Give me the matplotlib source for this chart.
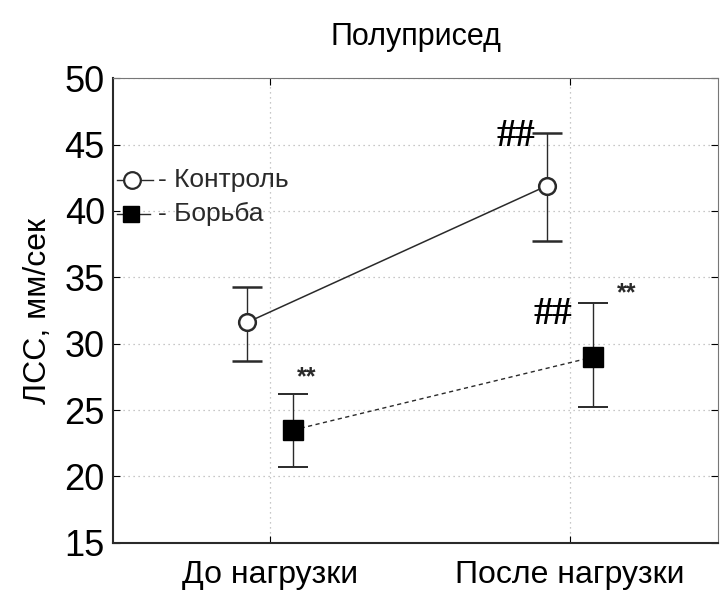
"""
Полуприсед: ЛСС before and after load, control vs wrestlers
"""

import numpy as np
import matplotlib
matplotlib.use('Agg')
import matplotlib.pyplot as plt
from matplotlib import font_manager

# Categories on the x axis
CATEGORIES = ['До нагрузки', 'После нагрузки']
# Control group: means and error bar limits (mm/s)
CONTROL_MEAN = [31.6, 41.9]
CONTROL_LOW = [28.7, 37.7]
CONTROL_HIGH = [34.3, 45.9]
# Wrestling group
WRESTLING_MEAN = [23.5, 29.0]
WRESTLING_LOW = [20.7, 25.2]
WRESTLING_HIGH = [26.2, 33.1]
# Y ticks
Y_TICKS = [15, 20, 25, 30, 35, 40, 45, 50]

names = {f.name for f in font_manager.fontManager.ttflist}
FONT = 'Liberation Sans Narrow' if 'Liberation Sans Narrow' in names else 'Liberation Sans'
plt.rcParams['font.family'] = [FONT, 'DejaVu Sans']

fig = plt.figure(figsize=(7.21, 5.92), dpi=100)
ax = fig.add_axes([0.157, 0.083, 0.839, 0.785])

x = np.arange(len(CATEGORIES))
shift = 0.077
ink = '#2a2a2a'

def errs(mean, low, high):
    mean = np.array(mean)
    return [mean - np.array(low), np.array(high) - mean]

ax.errorbar(x - shift, CONTROL_MEAN, yerr=errs(CONTROL_MEAN, CONTROL_LOW, CONTROL_HIGH),
            fmt='-o', color=ink, mfc='white', mec=ink, mew=1.8, ms=12,
            lw=1.1, elinewidth=1.0, capsize=11, capthick=1.4, zorder=3)
ax.errorbar(x + shift, WRESTLING_MEAN, yerr=errs(WRESTLING_MEAN, WRESTLING_LOW, WRESTLING_HIGH),
            fmt='s', ls=(0, (3, 2.5)), color=ink, mfc='black', mec='black', ms=14,
            lw=1.0, elinewidth=1.0, capsize=11, capthick=1.4, zorder=3)

# Significance marks
ax.text(x[1] - shift - 0.04, CONTROL_HIGH[1] - 0.3, '##', fontsize=28,
        ha='right', va='center', color='black', family='Liberation Serif',
        fontweight='bold')
ax.text(x[1] + shift - 0.07, WRESTLING_HIGH[1] - 0.9, '##', fontsize=28,
        ha='right', va='center', color='black', family='Liberation Serif',
        fontweight='bold')
ax.text(x[0] + shift + 0.045, WRESTLING_HIGH[0] + 1.3, '**', fontsize=18,
        ha='center', va='center', color=ink, fontweight='bold')
ax.text(x[1] + shift + 0.11, WRESTLING_HIGH[1] + 0.7, '**', fontsize=18,
        ha='center', va='center', color=ink, fontweight='bold')

# Legend drawn inside the plot
ax.plot([-0.51, -0.39], [42.3, 42.3], '-', color=ink, lw=1.0, clip_on=False)
ax.plot([-0.46], [42.3], 'o', color=ink, mfc='white', mew=1.6, ms=12)
ax.plot([-0.51, -0.40], [39.8, 39.8], '-', color=ink, lw=1.0, clip_on=False)
ax.plot([-0.463], [39.8], 's', color='black', ms=11)
ax.text(-0.375, 42.3, '- Контроль', fontsize=19, va='center', color=ink)
ax.text(-0.375, 39.8, '- Борьба', fontsize=19, va='center', color=ink)

ax.set_xlim(-0.523, 1.493)
ax.set_ylim(15, 50)
ax.set_yticks(Y_TICKS)
ax.set_xticks(x)
ax.set_xticklabels(CATEGORIES, fontsize=23)
ax.tick_params(axis='y', labelsize=26, direction='in', right=True, length=5, pad=6)
ax.tick_params(axis='x', direction='in', top=True, length=5, pad=12)
ax.set_ylabel('ЛСС, мм/сек', fontsize=23, labelpad=8)
ax.set_title('Полуприсед', fontsize=22, pad=24)

ax.grid(True, ls=(0, (1, 3)), color='#b5b5b5', lw=0.9)
for side in ['left', 'bottom']:
    ax.spines[side].set_linewidth(1.5)
    ax.spines[side].set_color(ink)
for side in ['top', 'right']:
    ax.spines[side].set_linewidth(0.8)
    ax.spines[side].set_color('#777777')

fig.savefig('out.png', dpi=100)
